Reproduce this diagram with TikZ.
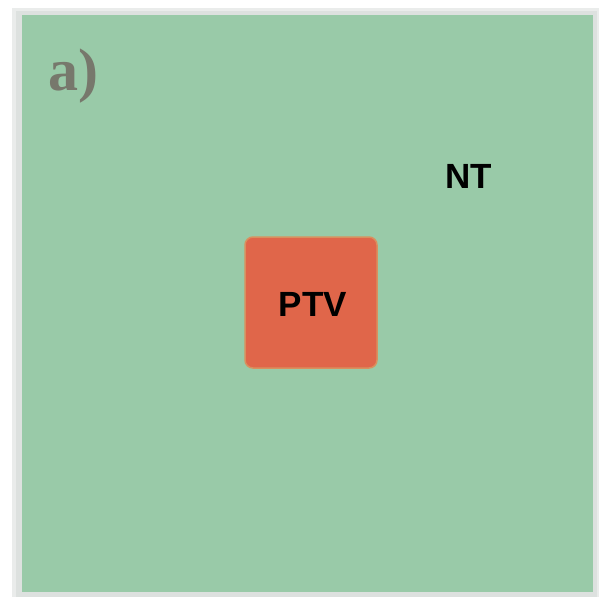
\documentclass[tikz,border=0pt]{standalone}
\usepackage{fontspec}
\setmainfont{Liberation Serif}
\setsansfont{Liberation Sans}
\definecolor{ntgreen}{HTML}{99CAA8}
\definecolor{ptvred}{HTML}{E0664A}
\definecolor{ptvedge}{HTML}{D9905E}
\definecolor{labgray}{HTML}{77786C}
\definecolor{shade}{HTML}{D5DAD7}
\tikzset{
  region/.style={fill=ntgreen, draw=none},
  ptvbox/.style={fill=ptvred, draw=ptvedge, line width=1.5pt, rounded corners=8pt},
  lab/.style={font=\sffamily\bfseries\fontsize{35}{40}\selectfont, text=black},
  panel/.style={font=\rmfamily\bfseries\fontsize{60}{70}\selectfont, text=labgray}
}
\begin{document}
\begin{tikzpicture}[x=1pt,y=-1pt]
\useasboundingbox (0,0) rectangle (601,597);
\fill[white] (0,0) rectangle (601,597);
% soft shadow
\fill[shade!50] (12,8) rectangle (599,597);
\fill[shade!80] (16,11) rectangle (597,597);
\fill[region] (22,15) rectangle (593,592);
\node[ptvbox, minimum width=132pt, minimum height=131pt, inner sep=0pt] (ptv) at (311,302.5) {};
\node[lab] (ptvlab) at (313,304) {PTV};
\node[lab] (nt) at (469,176) {NT};
\node[panel, anchor=base] (pa) at (73,90) {a)};
\end{tikzpicture}
\end{document}
